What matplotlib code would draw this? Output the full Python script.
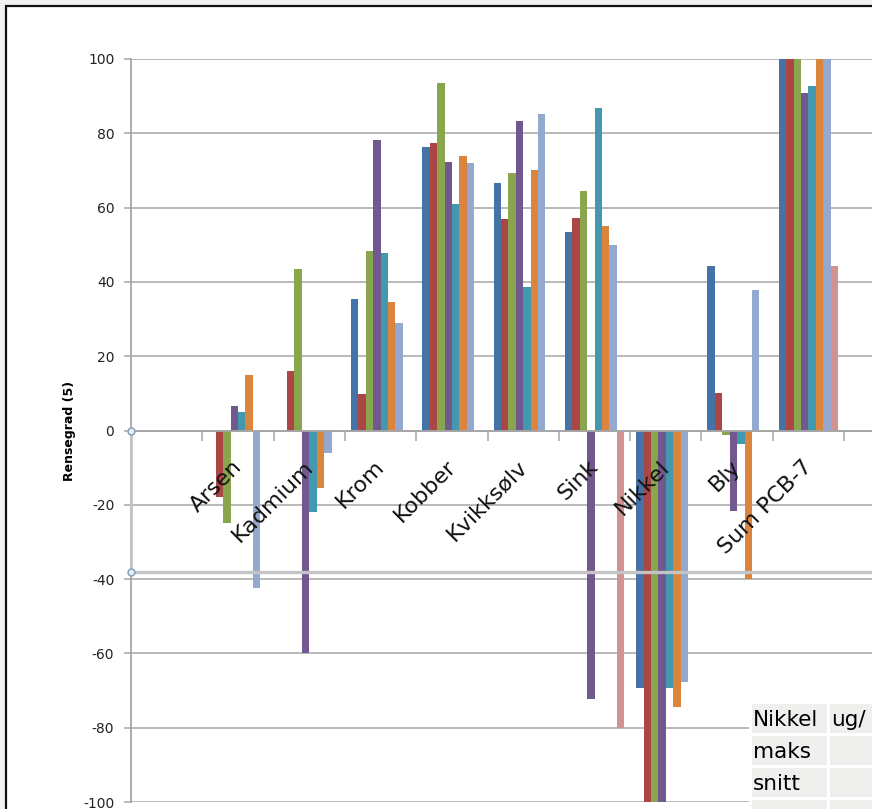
import matplotlib.pyplot as plt
import matplotlib.patches as mpatches
import numpy as np

# Rensegrad (%) per metall / PCB, one series per sample
categories = ["Arsen", "Kadmium", "Krom", "Kobber", "Kvikksølv", "Sink",
              "Nikkel", "Bly", "Sum PCB-7"]

s1 = [0, 0, 35.5, 76.4, 66.7, 53.3, -69.2, 44.4, 100]
s2 = [-18, 16, 9.7, 77.5, 56.8, 57.3, -100, 10.2, 100]
s3 = [-25, 43.5, 48.2, 93.6, 69.2, 64.6, -100, -1.2, 100]
s4 = [6.7, -60, 78.3, 72.4, 83.4, -72.4, -100, -21.8, 90.9]
s5 = [5.1, -22, 47.9, 61.0, 38.5, 86.7, -69.2, -3.5, 92.6]
s6 = [15, -15.5, 34.5, 73.8, 70.0, 55.0, -74.3, -40, 100]
s7 = [-42.5, -6, 29, 71.9, 85.3, 50.0, -67.8, 37.7, 100]
s8 = [0, 0, 0, 0, 0, -80, 0, 0, 44.4]
series = [s1, s2, s3, s4, s5, s6, s7, s8]
colors = ["#4572A7", "#AA4643", "#89A54E", "#71588F",
          "#4198AF", "#DB843D", "#93A9CF", "#D19392"]

yticks = np.arange(-100, 101, 20)
marker_level = -38

table_rows = [["Nikkel", "ug/"], ["maks", ""], ["snitt", ""], ["", ""]]

W, H = 872, 809
fig = plt.figure(figsize=(W / 100, H / 100), dpi=100)
fig.patch.set_facecolor("#f2f2f0")

# white chart area with dark frame
fig.patches.append(mpatches.Rectangle((6 / W, -0.1), 2, 1 - 6 / H + 0.1,
                                      transform=fig.transFigure,
                                      facecolor="white", edgecolor="#111111",
                                      linewidth=1.6, zorder=-5))

ax = fig.add_axes([131 / W, 1 - 802 / H, (W - 131) / W, (802 - 59) / H])
ax.set_facecolor("none")

x = np.arange(len(categories)) + 1
bw = 0.104
for i, (vals, c) in enumerate(zip(series, colors)):
    ax.bar(x - 0.415 + i * bw, vals, width=bw, align="edge", color=c,
           linewidth=0, zorder=2)

ax.set_xlim(-0.5, -0.5 + (W - 131) / 71.3)
ax.set_ylim(-100, 100)

# gridlines behind the bars
for v in yticks:
    ax.axhline(v, color="#a6a6a6", linewidth=1.1, zorder=0.5)

ax.set_yticks(yticks)
ax.set_yticklabels([str(v) for v in yticks], fontsize=10, color="#222222")
ax.tick_params(axis="y", length=5, width=1.1, color="#a6a6a6", pad=7)

# category boundaries as ticks
ax.set_xticks(np.arange(0.5, 10.5, 1))
ax.set_xticklabels([])
ax.tick_params(axis="x", which="major", direction="out", length=7,
               width=1.1, color="#a6a6a6")

# slanted category names, drawn over the bars
for xi, name in zip(x, categories):
    ax.text(xi - 0.09, -7.0, name, rotation=45, ha="right", va="top",
            rotation_mode="anchor", fontsize=16, color="#111111",
            zorder=7)

ax.spines["bottom"].set_position(("data", 0))
ax.spines["bottom"].set_color("#a6a6a6")
ax.spines["bottom"].set_linewidth(1.3)
ax.spines["left"].set_color("#a6a6a6")
ax.spines["left"].set_linewidth(1.3)
ax.spines["top"].set_visible(False)
ax.spines["right"].set_visible(False)

ax.set_ylabel("Rensegrad (5)", fontsize=9, fontweight="bold",
              family=["Liberation Sans Narrow", "DejaVu Sans"], labelpad=5)

# connector line with its end handles
ax.plot([-0.5, -0.5], [0, marker_level], color="#c4c4c4", lw=2, zorder=5,
        clip_on=False)
ax.axhline(marker_level, color="#c4c4c4", lw=2.4, zorder=5)
ax.plot([-0.5, -0.5], [0, marker_level], ls="none", marker="o", ms=5,
        mfc="#e4ecf4", mec="#7f9db9", mew=1, zorder=6, clip_on=False)

# pasted cell block in the lower right corner
fig.patches.append(mpatches.Rectangle((749 / W, -0.1), 1, (809 - 701) / H + 0.1,
                                      transform=fig.transFigure,
                                      facecolor="white", linewidth=0, zorder=3))
col_x = [752, 830]
col_w = [75, 60]
row_y = [704, 736, 768, 800]
for r, row in enumerate(table_rows):
    for c, txt in enumerate(row):
        fig.patches.append(mpatches.Rectangle(
            (col_x[c] / W, 1 - (row_y[r] + 29) / H), col_w[c] / W, 29 / H,
            transform=fig.transFigure, facecolor="#efefed", linewidth=0,
            zorder=4))
        if txt:
            fig.text((col_x[c] + 1) / W, 1 - (row_y[r] + 16) / H, txt,
                     fontsize=15.5, va="center", ha="left", zorder=5)

fig.savefig("out.png", dpi=100, facecolor=fig.get_facecolor())
